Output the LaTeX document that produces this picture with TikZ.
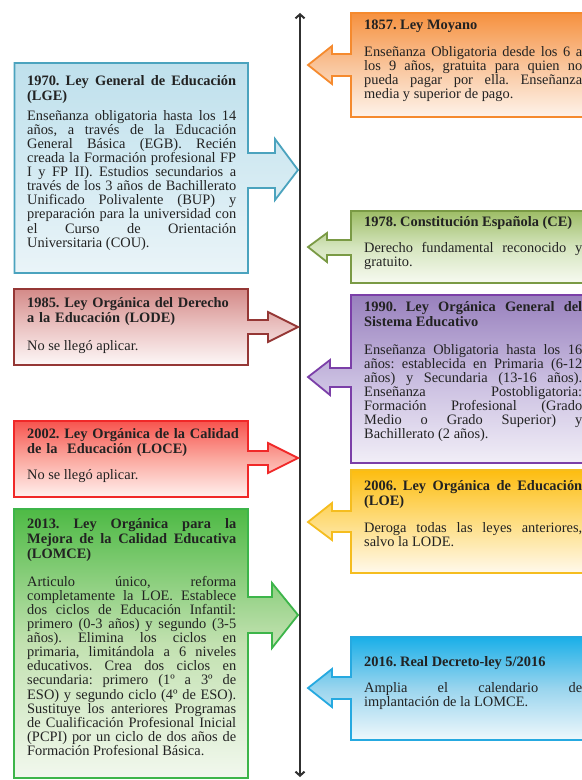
\documentclass[tikz,border=0pt]{standalone}
\usepackage{fontspec}
\setmainfont{Liberation Serif}
\usetikzlibrary{arrows.meta}
\tolerance=10000 \hbadness=10000 \hyphenpenalty=10000 \exhyphenpenalty=10000
\frenchspacing
\definecolor{textc}{HTML}{222222}
\definecolor{linec}{HTML}{303030}
% LGE
\definecolor{lgeT}{HTML}{BFE0EC}\definecolor{lgeM}{HTML}{D3EAF2}\definecolor{lgeB}{HTML}{EAF4F8}\definecolor{lgeD}{HTML}{4BA3BE}
% LODE
\definecolor{lodeT}{HTML}{D48A88}\definecolor{lodeM}{HTML}{EBC4C3}\definecolor{lodeB}{HTML}{FDF7F7}\definecolor{lodeD}{HTML}{953735}
% LOCE
\definecolor{loceT}{HTML}{F7544E}\definecolor{loceM}{HTML}{FBA9A0}\definecolor{loceB}{HTML}{FFF1EF}\definecolor{loceD}{HTML}{F02828}
% LOMCE
\definecolor{lomT}{HTML}{4EBA45}\definecolor{lomM}{HTML}{C2E1B0}\definecolor{lomB}{HTML}{F2F8EE}\definecolor{lomD}{HTML}{3DB54A}
% Moyano
\definecolor{moyT}{HTML}{F6913F}\definecolor{moyM}{HTML}{F9C49A}\definecolor{moyB}{HTML}{FEF3EA}\definecolor{moyD}{HTML}{F58A2E}
% CE
\definecolor{ceT}{HTML}{9DBD66}\definecolor{ceM}{HTML}{D5E5BE}\definecolor{ceB}{HTML}{F7FAF1}\definecolor{ceD}{HTML}{7A9A45}
% LOGSE
\definecolor{logT}{HTML}{9880BD}\definecolor{logM}{HTML}{C9BDE0}\definecolor{logB}{HTML}{F1EEF7}\definecolor{logD}{HTML}{7B3FA8}
% LOE
\definecolor{loeT}{HTML}{FDBD10}\definecolor{loeM}{HTML}{FEDD80}\definecolor{loeB}{HTML}{FFF9EC}\definecolor{loeD}{HTML}{F5BD1F}
% 2016
\definecolor{rdT}{HTML}{1AAFE8}\definecolor{rdM}{HTML}{9AD5EE}\definecolor{rdB}{HTML}{EFF8FC}\definecolor{rdD}{HTML}{26A9E0}
\tikzset{
  callout/.style n args={4}{top color=#1, bottom color=#3, middle color=#2, draw=#4, line width=1.8bp, line join=miter},
  txt/.style={anchor=north west, inner sep=0pt, text width=209bp, align=justify, text=textc,
    font=\fontsize{14.4bp}{14.1bp}\selectfont},
  ttl/.style={txt, font=\fontsize{14.4bp}{15bp}\selectfont\bfseries},
  ttlrag/.style={ttl, text width=230bp, align=left},
  rtxt/.style={txt, text width=218bp},
  rttl/.style={ttl, text width=218bp},
  timeline/.style={draw=linec, line width=2bp, {Straight Barb[length=4bp,width=9bp]}-{Straight Barb[length=4bp,width=9bp]}},
}
\newcommand{\tp}{\rule{0pt}{11bp}}
\begin{document}
\begin{tikzpicture}[x=1bp,y=-1bp]
\useasboundingbox (0,0) rectangle (582,780);
\fill[white] (0,0) rectangle (582,780);
\begin{scope}
\clip (0,0) rectangle (582,780);

% timeline
\coordinate (tlbot) at (300,777);
\coordinate (tltop) at (300,13);
\draw[timeline] (tlbot) -- (tltop);

% ---------- left boxes ----------
% LGE
\shadedraw[callout={lgeT}{lgeM}{lgeB}{lgeD}] (14.5,63) -- (248,63) -- (248,153) -- (275,153) -- (275,139) -- (298,170) -- (275,200) -- (275,188) -- (248,188) -- (248,273) -- (14.5,273) -- cycle;
\node[ttl] (lgeTitle) at (27,74) {\tp 1970. Ley General de Educación\linebreak (LGE)};
\node[txt] (lgeBody) at (27,109) {\tp Enseñanza obligatoria hasta los 14\linebreak
años, a través de la Educación\linebreak
General Básica (EGB). Recién\linebreak
creada la Formación profesional FP\linebreak
I y FP II). Estudios secundarios a\linebreak
través de los 3 años de Bachillerato\linebreak
Unificado Polivalente (BUP) y\linebreak
preparación para la universidad con\linebreak
el Curso de Orientación\linebreak
Universitaria (COU).};

% LODE
\shadedraw[callout={lodeT}{lodeM}{lodeB}{lodeD}] (14,289) -- (248,289) -- (248,320) -- (268,320) -- (268,312) -- (298,327) -- (268,342) -- (268,334) -- (248,334) -- (248,365) -- (14,365) -- cycle;
\node[ttlrag] (lodeTitle) at (27,296.5) {\tp 1985. Ley Orgánica del Derecho\\ a la Educación (LODE)};
\node[txt] (lodeBody) at (27,339) {\tp No se llegó aplicar.};

% LOCE
\shadedraw[callout={loceT}{loceM}{loceB}{loceD}] (14,421) -- (248,421) -- (248,451) -- (268,451) -- (268,443) -- (298,458) -- (268,473) -- (268,465) -- (248,465) -- (248,497) -- (14,497) -- cycle;
\node[ttlrag] (loceTitle) at (27,427) {\tp 2002. Ley Orgánica de la Calidad\\ de la~\ Educación (LOCE)};
\node[txt] (loceBody) at (27,468) {\tp No se llegó aplicar.};

% LOMCE
\shadedraw[callout={lomT}{lomM}{lomB}{lomD}] (14,509) -- (248,509) -- (248,597) -- (272,597) -- (272,583) -- (298,615) -- (272,648) -- (272,633) -- (248,633) -- (248,778) -- (14,778) -- cycle;
\node[ttl] (lomTitle) at (27,517) {\tp 2013. Ley Orgánica para la\linebreak Mejora de la Calidad Educativa\linebreak (LOMCE)};
\node[txt] (lomBody) at (27,575) {\tp Articulo único, reforma\linebreak
completamente la LOE. Establece\linebreak
dos ciclos de Educación Infantil:\linebreak
primero (0-3 años) y segundo (3-5\linebreak
años). Elimina los ciclos en\linebreak
primaria, limitándola a 6 niveles\linebreak
educativos. Crea dos ciclos en\linebreak
secundaria: primero (1º a 3º de\linebreak
ESO) y segundo ciclo (4º de ESO).\linebreak
Sustituye los anteriores Programas\linebreak
de Cualificación Profesional Inicial\linebreak
(PCPI) por un ciclo de dos años de\linebreak
Formación Profesional Básica.};

% ---------- right boxes ----------
% Moyano
\shadedraw[callout={moyT}{moyM}{moyB}{moyD}] (600,13) -- (351,13) -- (351,54) -- (332,54) -- (332,46) -- (308,65) -- (332,84) -- (332,76) -- (351,76) -- (351,117) -- (600,117) -- cycle;
\node[rttl] (moyTitle) at (364,18) {\tp 1857. Ley Moyano};
\node[rtxt] (moyBody) at (364,45.5) {\tp Enseñanza Obligatoria desde los 6 a\linebreak
los 9 años, gratuita para quien no\linebreak
pueda pagar por ella. Enseñanza\linebreak
media y superior de pago.};

% CE
\shadedraw[callout={ceT}{ceM}{ceB}{ceD}] (600,211) -- (351,211) -- (351,240) -- (327,240) -- (327,233) -- (308,247) -- (327,262) -- (327,255) -- (351,255) -- (351,283) -- (600,283) -- cycle;
\node[rttl] (ceTitle) at (364,215.5) {\tp 1978. Constitución Española (CE)};
\node[rtxt] (ceBody) at (364,241) {\tp Derecho fundamental reconocido y\linebreak gratuito.};

% LOGSE 1990
\shadedraw[callout={logT}{logM}{logB}{logD}] (600,295) -- (351,295) -- (351,368) -- (330,368) -- (330,360) -- (308,377) -- (330,395) -- (330,387) -- (351,387) -- (351,463) -- (600,463) -- cycle;
\node[rttl] (logTitle) at (364,300) {\tp 1990. Ley Orgánica General del\linebreak Sistema Educativo};
\node[rtxt] (logBody) at (364,343) {\tp Enseñanza Obligatoria hasta los 16\linebreak
años: establecida en Primaria (6-12\linebreak
años) y Secundaria (13-16 años).\linebreak
Enseñanza Postobligatoria:\linebreak
Formación Profesional (Grado\linebreak
Medio o Grado Superior) y\linebreak
Bachillerato (2 años).};

% LOE 2006
\shadedraw[callout={loeT}{loeM}{loeB}{loeD}] (600,470) -- (351,470) -- (351,511) -- (332,511) -- (332,503) -- (308,522) -- (332,540) -- (332,532) -- (351,532) -- (351,573) -- (600,573) -- cycle;
\node[rttl] (loeTitle) at (364,479) {\tp 2006. Ley Orgánica de Educación\linebreak (LOE)};
\node[rtxt] (loeBody) at (364,521) {\tp Deroga todas las leyes anteriores,\linebreak salvo la LODE.};

% 2016
\shadedraw[callout={rdT}{rdM}{rdB}{rdD}] (600,637) -- (351,637) -- (351,677) -- (332,677) -- (332,669) -- (308,688) -- (332,707) -- (332,699) -- (351,699) -- (351,740) -- (600,740) -- cycle;
\node[rttl] (rdTitle) at (364,655.5) {\tp 2016. Real Decreto-ley 5/2016};
\node[rtxt] (rdBody) at (364,681) {\tp Amplia el calendario de\linebreak implantación de la LOMCE.};
\end{scope}
\end{tikzpicture}
\end{document}
